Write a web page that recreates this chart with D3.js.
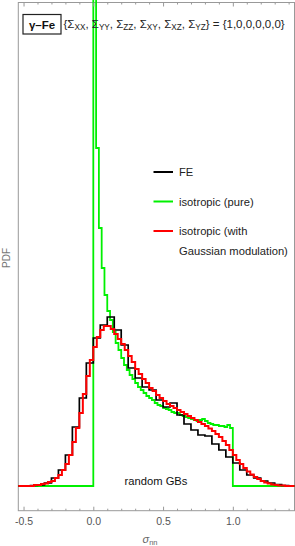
<!DOCTYPE html>
<html>
<head>
<meta charset="utf-8">
<script src="https://cdn.jsdelivr.net/npm/d3@7"></script>
<style>
  body { margin: 0; background: #fff; }
  svg { display: block; font-family: "Liberation Sans", Arial, sans-serif; }
</style>
</head>
<body>
<div id="chart"></div>
<script>
// bin starts and PDF values
let feStart = -0.55, feWidth = 0.05;
let feValues = [0, 0, 0.005, 0.01, 0.03, 0.08, 0.16, 0.31, 0.59, 0.88,
    1.23, 1.48, 1.61, 1.69, 1.56, 1.41, 1.18, 1.08, 0.99, 0.96,
    0.86, 0.79, 0.83, 0.71, 0.62, 0.56, 0.51, 0.50, 0.42, 0.36,
    0.29, 0.23, 0.16, 0.11, 0.08, 0.05, 0.03, 0.015, 0.005, 0];

let isoStart = 0, isoWidth = 0.02;
let isoValues = [7.0, 3.38, 2.58, 2.18, 1.91, 1.75, 1.66, 1.54, 1.43, 1.36,
    1.28, 1.21, 1.16, 1.11, 1.07, 1.03, 0.99, 0.96, 0.93, 0.90,
    0.88, 0.86, 0.83, 0.81, 0.80, 0.78, 0.77, 0.76, 0.74, 0.73,
    0.73, 0.71, 0.70, 0.69, 0.68, 0.67, 0.66, 0.65, 0.66, 0.67,
    0.65, 0.63, 0.62, 0.61, 0.61, 0.60, 0.60, 0.59, 0.61, 0.58];

let gaussStart = -0.55, gaussWidth = 0.025;
let gaussValues = [0, 0, 0, 0, 0, 0.01, 0.01, 0.02, 0.025, 0.04,
    0.05, 0.08, 0.11, 0.16, 0.22, 0.31, 0.44, 0.58, 0.73, 0.92,
    1.10, 1.26, 1.39, 1.49, 1.56, 1.60, 1.60, 1.57, 1.52, 1.47,
    1.42, 1.36, 1.30, 1.24, 1.17, 1.12, 1.07, 1.03, 0.98, 0.95,
    0.91, 0.88, 0.85, 0.82, 0.80, 0.78, 0.76, 0.74, 0.72, 0.70,
    0.68, 0.66, 0.64, 0.62, 0.60, 0.575, 0.55, 0.52, 0.49, 0.45,
    0.41, 0.36, 0.31, 0.26, 0.22, 0.18, 0.145, 0.115, 0.09, 0.07,
    0.05, 0.035, 0.025, 0.015, 0.01, 0.005, 0.005, 0, 0, 0];

let majorTicks = [-0.5, 0.0, 0.5, 1.0];
let minorTicks = [-0.4, -0.3, -0.2, -0.1, 0.1, 0.2, 0.3, 0.4, 0.6, 0.7, 0.8, 0.9, 1.1, 1.2, 1.3, 1.4];

let legendLabels = [["FE"], ["isotropic (pure)"], ["isotropic (with", "Gaussian modulation)"]];
let legendColors = ["#000000", "#00f000", "#ff0000"];

var width = 295, height = 546;
var plotL = 18.3, plotR = 294.5, plotT = 2.5, plotB = 510.7;

var svg = d3.select("#chart").append("svg")
    .attr("width", width)
    .attr("height", height);

var x = d3.scaleLinear().domain([-0.5376, 1.442]).range([plotL, plotR]);
var y = d3.scaleLinear().domain([-0.247, 4.835]).range([plotB, plotT]);

svg.append("clipPath").attr("id", "clip")
    .append("rect")
    .attr("x", plotL).attr("y", -20)
    .attr("width", plotR - plotL).attr("height", plotB + 20);

function steps(start, w, vals) {
    let pts = vals.map((v, i) => [start + i * w, v]);
    pts.push([start + vals.length * w, vals[vals.length - 1]]);
    return pts;
}

var line = d3.line()
    .x(d => x(d[0]))
    .y(d => y(d[1]))
    .curve(d3.curveStepAfter);

var isoPts = [[-0.55, 0]].concat(steps(isoStart, isoWidth, isoValues));
isoPts[isoPts.length - 1] = [1.0, 0];
isoPts.push([1.45, 0]);

// frame
var frameColor = "#999";
svg.append("rect")
    .attr("x", plotL).attr("y", plotT)
    .attr("width", plotR - plotL).attr("height", plotB - plotT)
    .attr("fill", "none")
    .attr("stroke", frameColor)
    .attr("stroke-width", 1);

var plot = svg.append("g").attr("clip-path", "url(#clip)");

plot.append("path")
    .datum(isoPts)
    .attr("d", line)
    .attr("fill", "none")
    .attr("stroke", legendColors[1])
    .attr("stroke-width", 1.8);

plot.append("path")
    .datum(steps(feStart, feWidth, feValues))
    .attr("d", line)
    .attr("fill", "none")
    .attr("stroke", legendColors[0])
    .attr("stroke-width", 1.7);

plot.append("path")
    .datum(steps(gaussStart, gaussWidth, gaussValues))
    .attr("d", line)
    .attr("fill", "none")
    .attr("stroke", legendColors[2])
    .attr("stroke-width", 2);

let fmt = d => d.toFixed(1);

function tickAxis(axisFn, yPos, vals, size, labels) {
    let g = svg.append("g")
        .attr("transform", `translate(0,${yPos})`)
        .call(axisFn(x).tickValues(vals).tickSize(size).tickSizeOuter(0)
            .tickFormat(labels ? fmt : ""));
    g.select(".domain").remove();
    g.selectAll(".tick line").attr("stroke", frameColor);
    g.selectAll(".tick text")
        .attr("fill", "#555")
        .attr("font-size", 10.5)
        .attr("font-family", "Liberation Sans, Arial, sans-serif");
    return g;
}

var xb = tickAxis(d3.axisBottom, plotB, majorTicks, -4, true);
xb.selectAll(".tick text").attr("y", 7);
tickAxis(d3.axisBottom, plotB, minorTicks, -2, false);
tickAxis(d3.axisTop, plotT, majorTicks, -4, false);
tickAxis(d3.axisTop, plotT, minorTicks, -2, false);

// axis labels
var xl = svg.append("text")
    .attr("x", 150).attr("y", 543)
    .attr("text-anchor", "middle")
    .attr("fill", "#666")
    .attr("font-size", 11);
xl.append("tspan").attr("font-style", "italic").text("σ");
xl.append("tspan").attr("font-size", 7.5).attr("dy", 2).text("nn");

svg.append("text")
    .attr("transform", "translate(10,258) rotate(-90)")
    .attr("text-anchor", "middle")
    .attr("fill", "#777")
    .attr("font-size", 10)
    .text("PDF");

// title box
svg.append("rect")
    .attr("x", 23).attr("y", 14.5)
    .attr("width", 38).attr("height", 19.5)
    .attr("fill", "#fff")
    .attr("stroke", "#222")
    .attr("stroke-width", 1.2);
svg.append("text")
    .attr("x", 42).attr("y", 28.5)
    .attr("text-anchor", "middle")
    .attr("font-weight", "bold")
    .attr("font-size", 11.5)
    .attr("fill", "#111")
    .text("γ–Fe");

var sub = ["XX", "YY", "ZZ", "XY", "XZ", "YZ"];
var tt = svg.append("text")
    .attr("x", 63.5).attr("y", 28)
    .attr("font-size", 11.5)
    .attr("fill", "#222");
tt.append("tspan").text("{");
sub.forEach((s, i) => {
    tt.append("tspan").text("Σ");
    tt.append("tspan").attr("font-size", 8.2).attr("dy", 2).text(s);
    tt.append("tspan").attr("dy", -2).text(i < sub.length - 1 ? ", " : "} = {1,0,0,0,0,0}");
});

// legend
var legY = [172, 201.5, 231];
legendLabels.forEach((lab, i) => {
    svg.append("line")
        .attr("x1", 153.5).attr("x2", 173)
        .attr("y1", legY[i]).attr("y2", legY[i])
        .attr("stroke", legendColors[i])
        .attr("stroke-width", 2);
    lab.forEach((t, j) => {
        svg.append("text")
            .attr("x", 179).attr("y", legY[i] + 4 + j * 19.5)
            .attr("font-size", 11.2)
            .attr("fill", "#222")
            .text(t);
    });
});

svg.append("text")
    .attr("x", 156).attr("y", 484.5)
    .attr("text-anchor", "middle")
    .attr("font-size", 11.2)
    .attr("fill", "#111")
    .text("random GBs");
</script>
</body>
</html>
